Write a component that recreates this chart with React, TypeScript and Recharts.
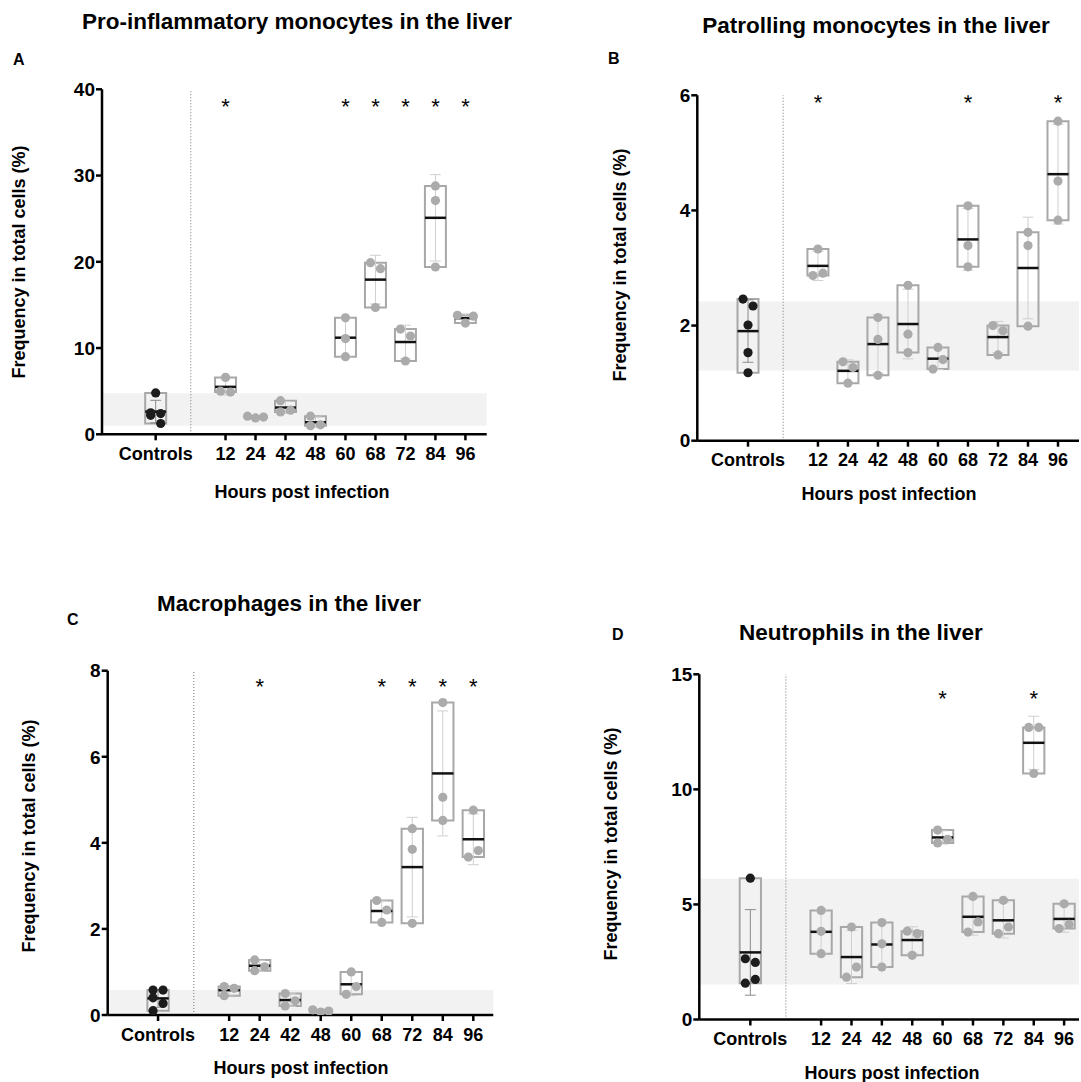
import React from "react";
import { ComposedChart, XAxis, YAxis, Scatter, ReferenceArea, ReferenceLine } from "recharts";

// ---------- data ----------
const timeLabels = ["12", "24", "42", "48", "60", "68", "72", "84", "96"];
const controlLabel = "Controls";

// A: Pro-inflammatory monocytes
const proControls = [4.8, 2.4, 2.2, 2.5, 1.25];
const proInfected = [
  [6.6, 5.0, 4.9],
  [2.1, 1.9, 2.0],
  [3.9, 2.6, 2.8],
  [2.1, 1.0, 1.1],
  [13.5, 11.1, 9.0],
  [19.9, 19.2, 14.7],
  [12.2, 11.4, 8.5],
  [28.8, 27.1, 19.4],
  [13.8, 12.9, 13.7],
];
const proSignificant = ["12", "60", "68", "72", "84", "96"];
const proBand = [1.0, 4.75];
const proTicks = [0, 10, 20, 30, 40];

// B: Patrolling monocytes
const patControls = [2.46, 2.34, 2.01, 1.53, 1.18];
const patInfected = [
  [3.33, 2.87, 2.91],
  [1.37, 1.27, 1.0],
  [2.14, 1.76, 1.135],
  [2.7, 1.85, 1.53],
  [1.62, 1.245, 1.41],
  [4.08, 3.39, 3.02],
  [2.0, 1.91, 1.49],
  [3.62, 3.39, 1.99],
  [5.55, 4.51, 3.83],
];
const patSignificant = ["12", "68", "96"];
const patBand = [1.22, 2.42];
const patTicks = [0, 2, 4, 6];

// C: Macrophages
const macControls = [0.58, 0.58, 0.4, 0.27, 0.1];
const macInfected = [
  [0.66, 0.62, 0.45],
  [1.28, 1.12, 1.03],
  [0.5, 0.33, 0.21],
  [0.12, 0.07, 0.09],
  [1.0, 0.48, 0.66],
  [2.66, 2.44, 2.15],
  [4.33, 3.85, 2.13],
  [7.26, 5.06, 4.52],
  [4.76, 3.67, 3.82],
];
const macSignificant = ["24", "68", "72", "84", "96"];
const macBand = [0.05, 0.58];
const macTicks = [0, 2, 4, 6, 8];

// D: Neutrophils
const neuControls = [6.14, 2.64, 2.48, 1.58, 1.74];
const neuInfected = [
  [4.74, 3.83, 2.86],
  [4.02, 1.84, 2.28],
  [4.21, 3.29, 2.28],
  [3.84, 3.73, 2.79],
  [8.23, 7.83, 7.67],
  [5.35, 3.8, 4.24],
  [5.18, 3.73, 4.02],
  [12.69, 12.69, 10.69],
  [5.03, 3.95, 4.13],
];
const neuSignificant = ["60", "84"];
const neuBand = [1.52, 6.12];
const neuTicks = [0, 5, 10, 15];

// ---------- layout / style ----------
const FONT = "'Liberation Sans', Arial, Helvetica, sans-serif";
const GAP = 2.33;
const SEP = 1.17;
const BOX_HALF = 0.35;
const CAP_HALF = 0.18;
const YW = 60;
const XH = 40;
const BOX_STROKE = "#a8a8a8";
const POINT_FILL = "#ababab";
const CONTROL_FILL = "#1c1c1c";

const xPositions = [0, ...timeLabels.map((_, i) => GAP + i)];
const xLabels = [controlLabel, ...timeLabels];

function stats(vals: number[]) {
  const n = vals.length;
  const mean = vals.reduce((a, b) => a + b, 0) / n;
  const sd = Math.sqrt(vals.reduce((a, b) => a + (b - mean) * (b - mean), 0) / (n - 1));
  return { min: Math.min(...vals), max: Math.max(...vals), mean, sd };
}

function swarm(vals: number[], pxPerUnit: number): number[] {
  const idx = vals.map((_, i) => i).sort((a, b) => vals[b] - vals[a]);
  const clusters: number[][] = [];
  let cur = [idx[0]];
  for (let k = 1; k < idx.length; k++) {
    const gap = (vals[idx[k - 1]] - vals[idx[k]]) * pxPerUnit;
    if (gap < 11) cur.push(idx[k]);
    else {
      clusters.push(cur);
      cur = [idx[k]];
    }
  }
  clusters.push(cur);
  const off = new Array(vals.length).fill(0);
  for (const c of clusters) {
    if (c.length === 1) continue;
    const span = (vals[c[0]] - vals[c[c.length - 1]]) * pxPerUnit;
    if (c.length === 2) {
      const s = [...c].sort((p, q) => p - q);
      off[s[0]] = -5;
      off[s[1]] = 5;
    } else if (span < 9) {
      const s = [...c].sort((p, q) => p - q);
      s.forEach((p, k) => (off[p] = (k - (s.length - 1) / 2) * 8));
    } else {
      c.forEach((p, k) => (off[p] = k % 2 === 0 ? -5 : 5));
    }
  }
  return off;
}

type Cfg = {
  box: { left: number; top: number; width: number; height: number };
  plot: { x0: number; y0: number; x1: number; y1: number };
  xDomain: [number, number];
  yMax: number;
  yTicks: number[];
  band: number[];
  controls: number[];
  infected: number[][];
  sig: string[];
  starY: number;
};

const Dot = (fill: string) => (p: any) => <circle cx={p.cx} cy={p.cy} r={4.6} fill={fill} stroke="none" />;
const Star = (p: any) => (
  <text x={p.cx} y={p.cy + 12.5} textAnchor="middle" fontSize={22} fontFamily={FONT} fill="#000">
    *
  </text>
);

function Panel({ cfg }: { cfg: Cfg }) {
  const { box, plot, xDomain, yMax, yTicks, band, controls, infected, sig, starY } = cfg;
  const margin = {
    left: plot.x0 - box.left - YW,
    top: plot.y0 - box.top,
    right: box.left + box.width - plot.x1,
    bottom: box.top + box.height - plot.y1 - XH,
  };
  const pxPerUnit = (plot.y1 - plot.y0) / yMax;
  const slotPx = (plot.x1 - plot.x0) / (xDomain[1] - xDomain[0]);
  const groups = [controls, ...infected];

  const controlPts: { x: number; y: number }[] = [];
  const infectedPts: { x: number; y: number }[] = [];
  groups.forEach((vals, gi) => {
    const off = swarm(vals, pxPerUnit);
    vals.forEach((v, k) => {
      const pt = { x: xPositions[gi] + off[k] / slotPx, y: v };
      (gi === 0 ? controlPts : infectedPts).push(pt);
    });
  });
  const starPts = sig.map((s) => ({ x: xPositions[timeLabels.indexOf(s) + 1], y: starY }));

  const xTickStyle = { fill: "#000", fontSize: 18, fontWeight: 700, fontFamily: FONT };
  const yTickStyle = { fill: "#000", fontSize: 19, fontWeight: 700, fontFamily: FONT };
  const axisStroke = { stroke: "#000", strokeWidth: 2.5 };

  return (
    <div style={{ position: "absolute", left: box.left, top: box.top }}>
      <ComposedChart width={box.width} height={box.height} margin={margin}>
        <XAxis
          type="number"
          dataKey="x"
          domain={xDomain}
          allowDataOverflow
          ticks={xPositions}
          interval={0}
          tickFormatter={(v: number) => xLabels[xPositions.indexOf(v)] ?? ""}
          height={XH}
          axisLine={axisStroke}
          tickLine={axisStroke}
          tickSize={6}
          tickMargin={7}
          tick={xTickStyle}
        />
        <YAxis
          type="number"
          dataKey="y"
          domain={[0, yMax]}
          allowDataOverflow
          ticks={yTicks}
          interval={0}
          width={YW}
          axisLine={axisStroke}
          tickLine={axisStroke}
          tickSize={6}
          tickMargin={1}
          tick={yTickStyle}
        />
        <ReferenceArea y1={band[0]} y2={band[1]} fill="#f2f2f2" fillOpacity={1} stroke="none" />
        <ReferenceLine x={SEP} stroke="#8a8a8a" strokeWidth={1.2} strokeDasharray="1 2" />
        {groups.map((vals, gi) => {
          const s = stats(vals);
          const x = xPositions[gi];
          const wc = gi === 0 ? "#8a8a8a" : "#cfcfcf";
          return (
            <React.Fragment key={"g" + gi}>
              <ReferenceArea
                x1={x - BOX_HALF}
                x2={x + BOX_HALF}
                y1={s.min}
                y2={s.max}
                fill="none"
                fillOpacity={0}
                stroke={BOX_STROKE}
                strokeWidth={2}
              />
              <ReferenceLine
                segment={[
                  { x, y: s.mean - s.sd },
                  { x, y: s.mean + s.sd },
                ]}
                stroke={wc}
                strokeWidth={1}
              />
              <ReferenceLine
                segment={[
                  { x: x - CAP_HALF, y: s.mean + s.sd },
                  { x: x + CAP_HALF, y: s.mean + s.sd },
                ]}
                stroke={wc}
                strokeWidth={1}
              />
              <ReferenceLine
                segment={[
                  { x: x - CAP_HALF, y: s.mean - s.sd },
                  { x: x + CAP_HALF, y: s.mean - s.sd },
                ]}
                stroke={wc}
                strokeWidth={1}
              />
              <ReferenceLine
                segment={[
                  { x: x - BOX_HALF, y: s.mean },
                  { x: x + BOX_HALF, y: s.mean },
                ]}
                stroke="#111"
                strokeWidth={2.5}
              />
            </React.Fragment>
          );
        })}
        <Scatter data={infectedPts} shape={Dot(POINT_FILL)} isAnimationActive={false} />
        <Scatter data={controlPts} shape={Dot(CONTROL_FILL)} isAnimationActive={false} />
        <Scatter data={starPts} shape={Star} isAnimationActive={false} />
      </ComposedChart>
    </div>
  );
}

const panels: Cfg[] = [
  {
    box: { left: 20, top: 70, width: 480, height: 420 },
    plot: { x0: 102, y0: 89.3, x1: 486.7, y1: 434.3 },
    xDomain: [-1.79, 11.04],
    yMax: 40,
    yTicks: proTicks,
    band: proBand,
    controls: proControls,
    infected: proInfected,
    sig: proSignificant,
    starY: 38.6,
  },
  {
    box: { left: 620, top: 70, width: 461, height: 420 },
    plot: { x0: 697.3, y0: 95.3, x1: 1079, y1: 440.7 },
    xDomain: [-1.69, 11.03],
    yMax: 6,
    yTicks: patTicks,
    band: patBand,
    controls: patControls,
    infected: patInfected,
    sig: patSignificant,
    starY: 5.96,
  },
  {
    box: { left: 20, top: 650, width: 480, height: 420 },
    plot: { x0: 107.7, y0: 670.7, x1: 493.3, y1: 1015 },
    xDomain: [-1.65, 10.985],
    yMax: 8,
    yTicks: macTicks,
    band: macBand,
    controls: macControls,
    infected: macInfected,
    sig: macSignificant,
    starY: 7.75,
  },
  {
    box: { left: 620, top: 650, width: 461, height: 420 },
    plot: { x0: 699.3, y0: 674.3, x1: 1079, y1: 1019.5 },
    xDomain: [-1.68, 10.82],
    yMax: 15,
    yTicks: neuTicks,
    band: neuBand,
    controls: neuControls,
    infected: neuInfected,
    sig: neuSignificant,
    starY: 14.17,
  },
];

const titles = [
  { text: "Pro-inflammatory monocytes in the liver", x: 297, y: 29 },
  { text: "Patrolling monocytes in the liver", x: 876, y: 33 },
  { text: "Macrophages in the liver", x: 289, y: 611 },
  { text: "Neutrophils in the liver", x: 861, y: 640 },
];
const letters = [
  { text: "A", x: 13, y: 65 },
  { text: "B", x: 608, y: 64 },
  { text: "C", x: 67, y: 625 },
  { text: "D", x: 612, y: 640 },
];
const yTitles = [
  { x: 18.5, y: 262 },
  { x: 620, y: 265 },
  { x: 28.5, y: 836 },
  { x: 611, y: 844 },
];
const xTitles = [
  { x: 302, y: 498 },
  { x: 889, y: 500 },
  { x: 301, y: 1074 },
  { x: 892, y: 1079 },
];

export default function App() {
  return (
    <div
      style={{
        position: "absolute",
        left: 0,
        top: 0,
        width: 1081,
        height: 1082,
        background: "#fff",
        overflow: "hidden",
        fontFamily: FONT,
      }}
    >
      {panels.map((p, i) => (
        <Panel key={i} cfg={p} />
      ))}
      <svg
        width={1081}
        height={1082}
        style={{ position: "absolute", left: 0, top: 0, pointerEvents: "none" }}
      >
        {titles.map((t, i) => (
          <text key={"t" + i} x={t.x} y={t.y} textAnchor="middle" fontSize={22.5} fontWeight={700} fontFamily={FONT} fill="#000">
            {t.text}
          </text>
        ))}
        {letters.map((t, i) => (
          <text key={"l" + i} x={t.x} y={t.y} fontSize={16} fontWeight={700} fontFamily={FONT} fill="#000">
            {t.text}
          </text>
        ))}
        {yTitles.map((t, i) => (
          <text
            key={"y" + i}
            x={t.x}
            y={t.y}
            dy="0.35em"
            textAnchor="middle"
            transform={`rotate(-90 ${t.x} ${t.y})`}
            fontSize={18}
            fontWeight={700}
            fontFamily={FONT}
            fill="#000"
          >
            Frequency in total cells (%)
          </text>
        ))}
        {xTitles.map((t, i) => (
          <text key={"x" + i} x={t.x} y={t.y} textAnchor="middle" fontSize={18} fontWeight={700} fontFamily={FONT} fill="#000">
            Hours post infection
          </text>
        ))}
      </svg>
    </div>
  );
}
